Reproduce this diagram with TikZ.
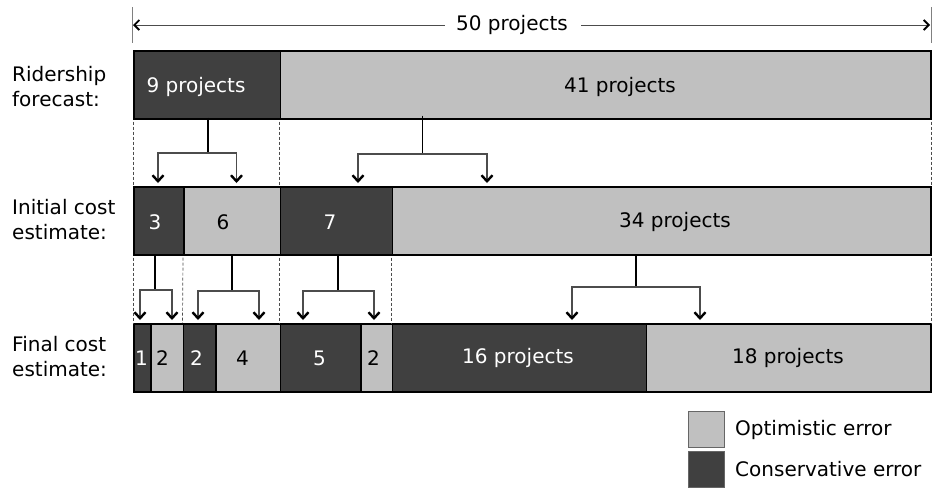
\documentclass[tikz,border=0pt]{standalone}
\usepackage{fontspec}
\setmainfont{DejaVu Sans}
\usetikzlibrary{arrows.meta}
\definecolor{darkc}{HTML}{404040}
\definecolor{lightc}{HTML}{C0C0C0}
\definecolor{tickc}{HTML}{808080}
\begin{document}
\begin{tikzpicture}[x=1pt,y=-1pt,
  font=\fontsize{20}{25}\selectfont,
  segbox/.style={draw=black, line width=1.6pt, inner sep=0pt, anchor=north west, minimum height=68pt},
  dk/.style={segbox, fill=darkc},
  lt/.style={segbox, fill=lightc},
  wtxt/.style={text=white, inner sep=0pt},
  btxt/.style={text=black, inner sep=0pt},
  rowlab/.style={align=left, anchor=west, inner sep=0pt},
  guide/.style={draw=black!70, dashed, dash pattern=on 3pt off 2pt, line width=0.7pt},
  stem/.style={draw=black, line width=1.3pt},
  fork/.style={draw=black!70, line width=1.2pt, shorten >=3pt,
    -{Straight Barb[length=6pt,width=11pt,line width=2.4pt,color=black]}},
  legbox/.style={draw=black!60, line width=0.9pt, minimum width=36pt, minimum height=36pt, inner sep=0pt, anchor=north west},
]
\useasboundingbox (0,0) rectangle (938,491);

% top span arrow
\coordinate (tl0) at (132,7);
\coordinate (tl1) at (132,43);
\coordinate (tr0) at (931,7);
\coordinate (tr1) at (931,43);
\draw[tickc, line width=1pt] (tl0) -- (tl1);
\draw[tickc, line width=1pt] (tr0) -- (tr1);
\node[btxt] (fifty) at (512,25) {50 projects};
\coordinate (al) at (133,25);
\coordinate (ar) at (930,25);
\draw[black!70, line width=0.8pt, {Straight Barb[length=5pt,width=10pt,line width=1.8pt,color=black]}-] (al) -- ([xshift=-11pt]fifty.west);
\draw[black!70, line width=0.8pt, -{Straight Barb[length=5pt,width=10pt,line width=1.8pt,color=black]}] ([xshift=13pt]fifty.east) -- (ar);

% row labels
\node[rowlab] (lab1) at (12,87) {Ridership\\forecast:};
\node[rowlab] (lab2) at (12,220) {Initial cost\\estimate:};
\node[rowlab] (lab3) at (12,357) {Final cost\\estimate:};

% row 1
\node[dk, minimum width=146.5pt] (r1a) at (133,50) {};
\node[lt, minimum width=650.5pt] (r1b) at (279.5,50) {};
\node[wtxt] (t1a) at (196,87) {9 projects};
\node[btxt] (t1b) at (620,87) {41 projects};

% row 2
\node[dk, minimum width=50pt] (r2a) at (133,186) {};
\node[lt, minimum width=96.5pt] (r2b) at (183,186) {};
\node[dk, minimum width=112pt] (r2c) at (279.5,186) {};
\node[lt, minimum width=538.5pt] (r2d) at (391.5,186) {};
\node[wtxt] (t2a) at (155,222) {3};
\node[btxt] (t2b) at (223,222) {6};
\node[wtxt] (t2c) at (330,222) {7};
\node[btxt] (t2d) at (675,222) {34 projects};

% row 3
\node[dk, minimum width=17pt] (r3a) at (133,323) {};
\node[lt, minimum width=32.5pt] (r3b) at (150,323) {};
\node[dk, minimum width=32.5pt] (r3c) at (182.5,323) {};
\node[lt, minimum width=64.5pt] (r3d) at (215,323) {};
\node[dk, minimum width=80.5pt] (r3e) at (279.5,323) {};
\node[lt, minimum width=31.5pt] (r3f) at (360,323) {};
\node[dk, minimum width=254pt] (r3g) at (391.5,323) {};
\node[lt, minimum width=284.5pt] (r3h) at (645.5,323) {};
\node[wtxt] (t3a) at (141.5,358) {1};
\node[btxt] (t3b) at (162.5,358) {2};
\node[wtxt] (t3c) at (196.5,358) {2};
\node[btxt] (t3d) at (242.5,358) {4};
\node[wtxt] (t3e) at (319.5,358) {5};
\node[btxt] (t3f) at (373.5,358) {2};
\node[wtxt] (t3g) at (518,358) {16 projects};
\node[btxt] (t3h) at (788,358) {18 projects};

% dashed guides between rows 1 and 2
\draw[guide] ([yshift=-2pt]r1a.south west) -- (r2a.north west);
\draw[guide] ([yshift=-2pt]r1b.south west) -- (r2c.north west);
\draw[guide] ([yshift=-2pt]r1b.south east) -- (r2d.north east);
% dashed guides between rows 2 and 3
\draw[guide] ([yshift=-2pt]r2a.south west) -- (r3a.north west);
\draw[guide] ([yshift=-2pt]r2b.south west) -- (r3c.north west);
\draw[guide] ([yshift=-2pt]r2c.south west) -- (r3e.north west);
\draw[guide] ([yshift=-2pt]r2d.south west) -- (r3g.north west);
\draw[guide] ([yshift=-2pt]r2d.south east) -- (r3h.north east);

% connectors row 1 -> row 2
\coordinate (h1) at (208,153);
\coordinate (a1) at (158,186);
\coordinate (b1) at (236.5,186);
\draw[stem] ([yshift=2pt]h1 |- r1a.south) -- (h1);
\draw[fork] (h1) -| (a1 |- r2a.north);
\draw[fork] (h1) -| (b1 |- r2b.north);

\coordinate (h2) at (422.5,154);
\coordinate (a2) at (358,186);
\coordinate (b2) at (487,186);
\draw[stem] ([yshift=4pt]h2 |- r1b.south) -- (h2);
\draw[fork] (h2) -| (a2 |- r2c.north);
\draw[fork] (h2) -| (b2 |- r2d.north);

% connectors row 2 -> row 3
\coordinate (h3) at (155,290);
\coordinate (a3) at (140,323);
\coordinate (b3) at (172,323);
\draw[stem] (h3 |- r2a.south) -- (h3);
\draw[fork] (h3) -| (a3 |- r3a.north);
\draw[fork] (h3) -| (b3 |- r3b.north);

\coordinate (h4) at (232,291);
\coordinate (a4) at (198,323);
\coordinate (b4) at (259,323);
\draw[stem] (h4 |- r2b.south) -- (h4);
\draw[fork] (h4) -| (a4 |- r3c.north);
\draw[fork] (h4) -| (b4 |- r3d.north);

\coordinate (h5) at (338,291);
\coordinate (a5) at (303,323);
\coordinate (b5) at (374,323);
\draw[stem] (h5 |- r2c.south) -- (h5);
\draw[fork] (h5) -| (a5 |- r3e.north);
\draw[fork] (h5) -| (b5 |- r3f.north);

\coordinate (h6) at (636,287);
\coordinate (a6) at (572,323);
\coordinate (b6) at (700,323);
\draw[stem] (h6 |- r2d.south) -- (h6);
\draw[fork] (h6) -| (a6 |- r3g.north);
\draw[fork] (h6) -| (b6 |- r3h.north);

% legend
\node[legbox, fill=lightc] (lg1) at (688,411) {};
\node[legbox, fill=darkc] (lg2) at (688,451) {};
\node[btxt, anchor=west] (lt1) at (735,430) {Optimistic error};
\node[btxt, anchor=west] (lt2) at (735,469) {Conservative error};
\end{tikzpicture}
\end{document}
